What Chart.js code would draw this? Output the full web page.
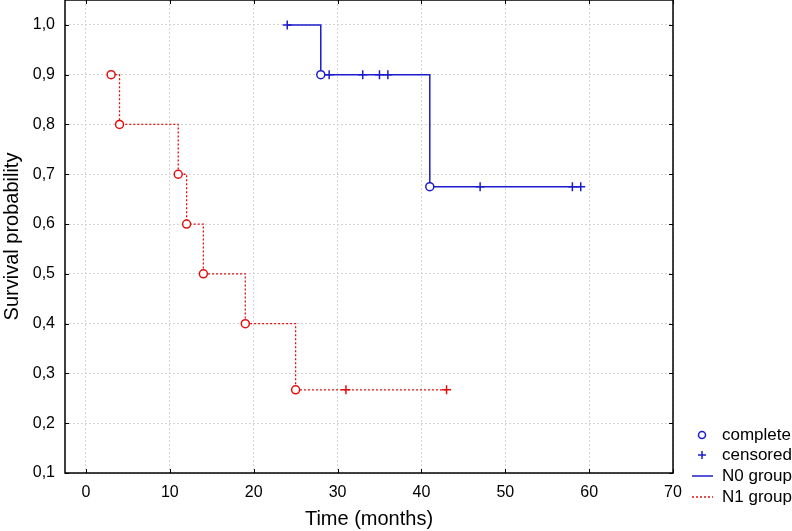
<!DOCTYPE html>
<html>
<head>
<meta charset="utf-8">
<script src="https://cdn.jsdelivr.net/npm/chart.js@4.4.0/dist/chart.umd.min.js"></script>
<style>
html, body { margin: 0; padding: 0; background: #fff; }
canvas { display: block; }
</style>
</head>
<body>
<canvas id="grafico" width="792" height="531"></canvas>
<script>
// tiempos (meses), probabilidad de supervivencia y tipo de evento (1 = complete, 0 = censored)
const n0Time = [24, 28, 29, 33, 35, 36, 41, 47, 58, 59];
const n0Surv = [1.0, 0.9, 0.9, 0.9, 0.9, 0.9, 0.675, 0.675, 0.675, 0.675];
const n0Event = [0, 1, 0, 0, 0, 0, 1, 0, 0, 0];

const n1Time = [3, 4, 11, 12, 14, 19, 25, 31, 43];
const n1Surv = [0.9, 0.8, 0.7, 0.6, 0.5, 0.4, 0.267, 0.267, 0.267];
const n1Event = [1, 1, 1, 1, 1, 1, 1, 0, 0];

const xTicks = [0, 10, 20, 30, 40, 50, 60, 70];
const yTicks = [0.1, 0.2, 0.3, 0.4, 0.5, 0.6, 0.7, 0.8, 0.9, 1.0];

const legendLabels = ['complete', 'censored', 'N0 group', 'N1 group'];

const azul = '#1c1ccc';
const rojo = '#e01010';
const fuente = '"Liberation Sans", Arial, sans-serif';

function puntos(t, s) {
    return t.map((x, i) => ({ x: x, y: s[i] }));
}

// marco negro y marcas de escala hacia dentro
const marcoPlugin = {
    id: 'marco',
    afterDatasetsDraw(chart) {
        const ctx = chart.ctx;
        const a = chart.chartArea;
        const sx = chart.scales.x;
        const sy = chart.scales.y;
        ctx.save();
        ctx.strokeStyle = '#000';
        ctx.lineWidth = 1;
        ctx.beginPath();
        xTicks.forEach(v => {
            const px = Math.round(sx.getPixelForValue(v)) + 0.5;
            ctx.moveTo(px, a.top); ctx.lineTo(px, a.top + 4);
            ctx.moveTo(px, a.bottom); ctx.lineTo(px, a.bottom - 4);
        });
        yTicks.forEach(v => {
            const py = Math.round(sy.getPixelForValue(v)) + 0.5;
            ctx.moveTo(a.left, py); ctx.lineTo(a.left + 4, py);
            ctx.moveTo(a.right, py); ctx.lineTo(a.right - 4, py);
        });
        ctx.stroke();
        ctx.lineWidth = 1.5;
        ctx.strokeRect(a.left, a.top, a.right - a.left, a.bottom - a.top);
        ctx.restore();
    }
};

// leyenda abajo a la derecha
const leyendaPlugin = {
    id: 'leyenda',
    afterDraw(chart) {
        const ctx = chart.ctx;
        const x0 = 702;
        const ys = [435, 455, 476, 497];
        ctx.save();
        ctx.font = '17px ' + fuente;
        ctx.fillStyle = '#000';
        ctx.textBaseline = 'middle';
        ctx.textAlign = 'left';
        legendLabels.forEach((txt, i) => ctx.fillText(txt, 722, ys[i]));

        ctx.lineWidth = 1.5;
        ctx.strokeStyle = azul;
        ctx.beginPath();
        ctx.arc(x0, ys[0], 3.5, 0, Math.PI * 2);
        ctx.stroke();
        ctx.beginPath();
        ctx.moveTo(x0 - 4, ys[1]); ctx.lineTo(x0 + 4, ys[1]);
        ctx.moveTo(x0, ys[1] - 4); ctx.lineTo(x0, ys[1] + 4);
        ctx.stroke();
        ctx.beginPath();
        ctx.moveTo(692, ys[2]); ctx.lineTo(713, ys[2]);
        ctx.stroke();
        ctx.strokeStyle = rojo;
        ctx.setLineDash([2, 2]);
        ctx.beginPath();
        ctx.moveTo(692, ys[3]); ctx.lineTo(713, ys[3]);
        ctx.stroke();
        ctx.restore();
    }
};

const ctx = document.getElementById('grafico').getContext('2d');
const grafico = new Chart(ctx, {
    type: 'line',
    data: {
        datasets: [{
            label: 'N0 group',
            data: puntos(n0Time, n0Surv),
            borderColor: azul,
            borderWidth: 1.5,
            stepped: 'before',
            fill: false,
            pointStyle: n0Event.map(e => e ? 'circle' : 'cross'),
            pointRadius: n0Event.map(e => e ? 4 : 4.5),
            pointBorderWidth: 1.5,
            pointBorderColor: azul,
            pointBackgroundColor: '#fff'
        }, {
            label: 'N1 group',
            data: puntos(n1Time, n1Surv),
            borderColor: rojo,
            borderWidth: 1.3,
            borderDash: [2, 2],
            stepped: 'before',
            fill: false,
            pointStyle: n1Event.map(e => e ? 'circle' : 'cross'),
            pointRadius: n1Event.map(e => e ? 4 : 4.5),
            pointBorderWidth: 1.5,
            pointBorderColor: rojo,
            pointBackgroundColor: '#fff'
        }]
    },
    options: {
        responsive: false,
        animation: false,
        devicePixelRatio: 1,
        layout: { autoPadding: false, padding: { top: 0, right: 119, bottom: 0, left: 0 } },
        plugins: {
            legend: { display: false },
            tooltip: { enabled: false }
        },
        scales: {
            x: {
                type: 'linear',
                position: 'bottom',
                min: -2.5,
                max: 70,
                afterFit: (scale) => {
                    scale.height = 58;
                    scale.paddingLeft = 0;
                    scale.paddingRight = 0;
                },
                afterBuildTicks: (scale) => { scale.ticks = xTicks.map(v => ({ value: v })); },
                ticks: {
                    padding: 10,
                    color: '#000',
                    font: { family: fuente, size: 16 },
                    maxRotation: 0,
                    callback: (v) => String(v)
                },
                grid: { color: '#d4d4d4', lineWidth: 1, drawTicks: false },
                border: { display: false, dash: [2, 2] },
                title: {
                    display: true,
                    text: 'Time (months)',
                    color: '#000',
                    font: { family: fuente, size: 20 },
                    padding: { top: 0, bottom: 0 }
                }
            },
            y: {
                type: 'linear',
                min: 0.1,
                max: 1.05,
                afterFit: (scale) => {
                    scale.width = 65;
                    scale.paddingTop = 0;
                    scale.paddingBottom = 0;
                },
                afterBuildTicks: (scale) => { scale.ticks = yTicks.map(v => ({ value: v })); },
                ticks: {
                    padding: 10,
                    color: '#000',
                    font: { family: fuente, size: 16 },
                    callback: (v) => Number(v).toFixed(1).replace('.', ',')
                },
                grid: { color: '#d4d4d4', lineWidth: 1, drawTicks: false },
                border: { display: false, dash: [2, 2] },
                title: {
                    display: true,
                    text: 'Survival probability',
                    color: '#000',
                    font: { family: fuente, size: 20 },
                    padding: { top: 0, bottom: 0 }
                }
            }
        }
    },
    plugins: [marcoPlugin, leyendaPlugin]
});
</script>
</body>
</html>
